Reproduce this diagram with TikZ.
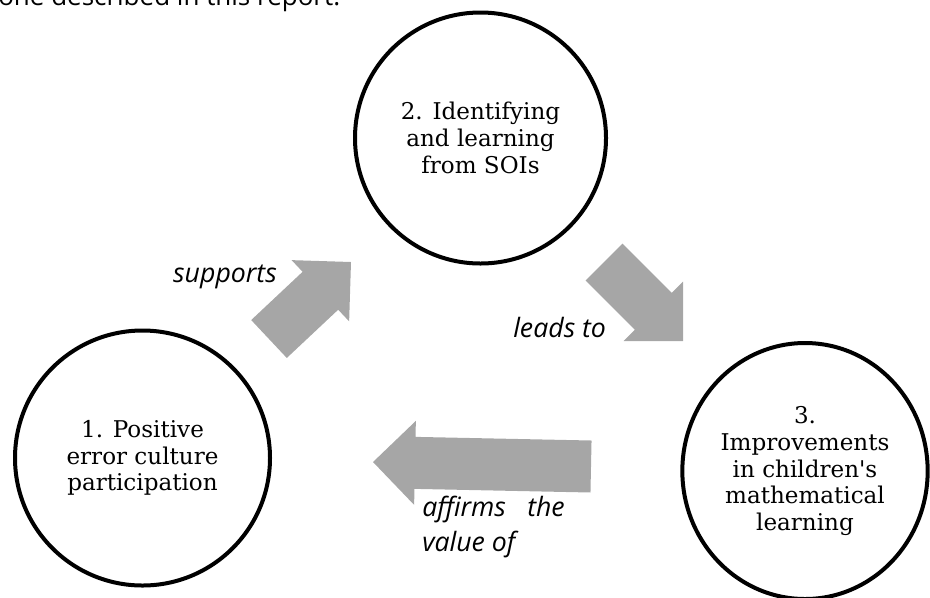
\documentclass[tikz,border=0pt]{standalone}
\usepackage{fontspec}
\setmainfont{DejaVu Serif}[Ligatures=TeXOff]
\newfontfamily\rotulofont{Open Sans}
\usetikzlibrary{calc,shapes.geometric}

\definecolor{setacinza}{RGB}{166,166,166}

% seta larga de (#1) ate (#2)
\newcommand{\setabloco}[2]{%
	\coordinate (hb) at ($(#2)!31.5pt!(#1)$);
	\fill[setacinza] ($(#1)!19.5pt!90:(#2)$) -- ($(hb)!19.5pt!-90:(#1)$) -- ($(hb)!31.5pt!-90:(#1)$) -- (#2)
		-- ($(hb)!31.5pt!90:(#1)$) -- ($(hb)!19.5pt!90:(#1)$) -- ($(#1)!19.5pt!-90:(#2)$) -- cycle;}

\begin{document}
\begin{tikzpicture}[x=0.75pt, y=-0.75pt,
		bolha/.style={draw, line width=3pt, inner sep=0pt, align=center, font=\fontsize{17.3pt}{20pt}\selectfont},
		rotulo/.style={inner sep=0pt, font=\rotulofont\itshape\fontsize{20pt}{25.5pt}\selectfont}]
			\useasboundingbox (0,0) rectangle (930,597);
			\clip (0,0) rectangle (930,597);
			% linha de texto cortada no topo
			\node[anchor=base west, inner sep=0pt, font=\rotulofont\fontsize{19.5pt}{23pt}\selectfont] (topo) at (-2,5) {one described in this report.};
			% Circulos
			\node[bolha, circle, minimum size=191.25pt] (c1) at (142.5,458) {1. Positive\\error culture\\participation};
			\node[bolha, circle, minimum size=188.25pt] (c2) at (480.5,138) {2. Identifying\\and learning\\from SOIs};
			\node[bolha, ellipse, minimum width=184pt, minimum height=192pt] (c3) at (805,471) {3.\\Improvements\\in children's\\mathematical\\learning};
			% Setas
			\coordinate (s1a) at (269,339);
			\coordinate (s1b) at (351,262);
			\coordinate (s2a) at (604,262);
			\coordinate (s2b) at (683,341);
			\coordinate (s3a) at (591,466.5);
			\coordinate (s3b) at (373,462);
			\setabloco{s1a}{s1b}
			\setabloco{s2a}{s2b}
			\setabloco{s3a}{s3b}
			% Rotulos
			\node[rotulo, anchor=base east] (r1) at (277,282) {supports};
			\node[rotulo, anchor=base west] (r2) at (513,337) {leads to};
			\node[rotulo, anchor=base west] (r3) at (422,516.5) {affirms\hspace{16pt}the};
			\node[rotulo, anchor=base west] (r4) at (422,551) {value of};
		\end{tikzpicture}
\end{document}
